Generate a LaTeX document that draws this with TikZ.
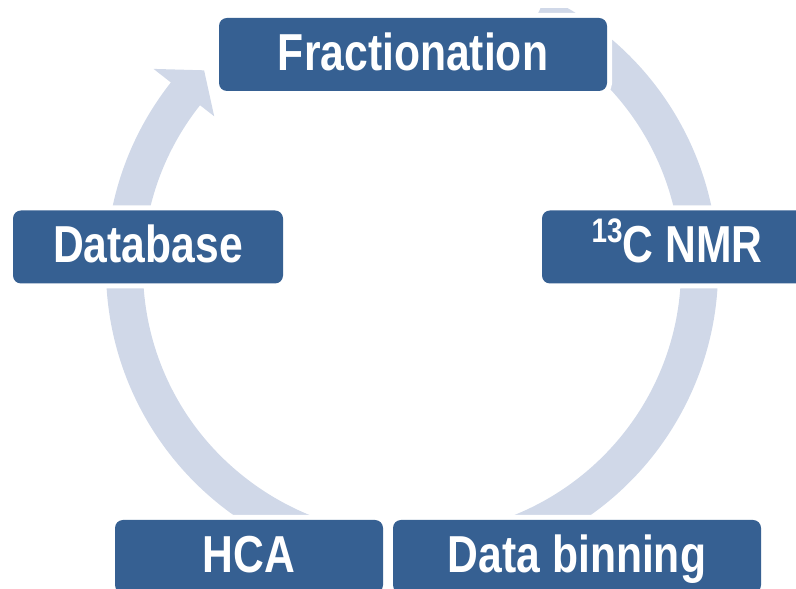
\documentclass[tikz,border=0pt]{standalone}
\usepackage{fontspec}
\setmainfont[FakeStretch=0.82]{Liberation Sans}
\usetikzlibrary{calc}
\definecolor{boxblue}{HTML}{366092}
\definecolor{ringc}{HTML}{D0D8E8}
\begin{document}
\begin{tikzpicture}[x=1pt,y=1pt,
  stagebox/.style={fill=boxblue, rounded corners=8pt,
    preaction={draw=white, line width=10pt, rounded corners=8pt},
    text=white, font=\fontsize{52}{60}\selectfont\bfseries,
    inner sep=0pt, text height=37.2pt, text depth=6pt, minimum height=73pt}]
\useasboundingbox (0,0) rectangle (796,589);
\clip (0,0) rectangle (796,589);
\coordinate (C) at (412,320);
% circular arrow
\begin{scope}
\clip (0,0) rectangle (796,580);
\fill[ringc] ($(C)+(64:306 and 303)$) arc[start angle=64, end angle=-218, x radius=306pt, y radius=303pt]
  -- ($(C)+(-218:328 and 325)$) -- ($(C)+(-224:289 and 286)$) -- ($(C)+(-218:251 and 248)$)
  -- ($(C)+(-218:269 and 266)$) arc[start angle=-218, end angle=64, x radius=269pt, y radius=266pt] -- cycle;
\end{scope}
% stages
\node[stagebox, minimum width=388pt] (frac) at (413,534.5) {Fractionation};
\node[stagebox, minimum width=270pt] (nmr) at (677,342) {\raisebox{20pt}{\fontsize{34}{34}\selectfont 13}C NMR};
\node[stagebox, minimum width=368pt] (bin) at (577,32.5) {Data binning};
\node[stagebox, minimum width=268pt] (hca) at (249,32.5) {HCA};
\node[stagebox, minimum width=270pt] (db) at (148,342) {Database};
\end{tikzpicture}
\end{document}
